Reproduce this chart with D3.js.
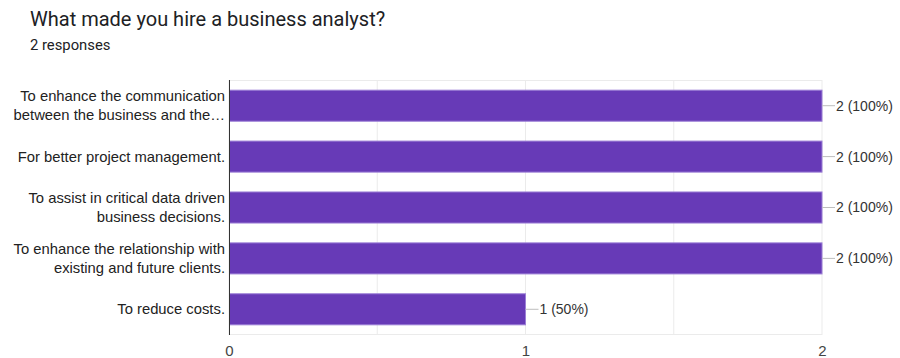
<!DOCTYPE html>
<html>
<head>
<meta charset="utf-8">
<script src="https://cdn.jsdelivr.net/npm/d3@7"></script>
<style>
  body { margin: 0; background: #fff; }
  svg { display: block; }
</style>
</head>
<body>
<div id="chart"></div>
<script>
const categories = [
  ["To enhance the communication", "between the business and the…"],
  ["For better project management."],
  ["To assist in critical data driven", "business decisions."],
  ["To enhance the relationship with", "existing and future clients."],
  ["To reduce costs."]
];
const counts = [2, 2, 2, 2, 1];
const percents = ["100%", "100%", "100%", "100%", "50%"];
const ticks = [0, 1, 2];
const gridTicks = [0, 0.5, 1, 1.5, 2];

const W = 900, H = 358;
const margin = { top: 80, right: 78, bottom: 23, left: 229 };
const width = W - margin.left - margin.right,
    height = H - margin.top - margin.bottom;

const font = "Arial, 'Liberation Sans', sans-serif";

const svg = d3.select("#chart").append("svg")
    .attr("width", W).attr("height", H);

svg.append("text")
    .attr("x", 30).attr("y", 26)
    .attr("font-family", "Roboto, sans-serif")
    .attr("font-size", 20)
    .attr("fill", "#202124")
    .text("What made you hire a business analyst?");

svg.append("text")
    .attr("x", 30).attr("y", 50)
    .attr("font-family", "Roboto, sans-serif")
    .attr("font-size", 14.8)
    .attr("fill", "#202124")
    .text("2 responses");

const g = svg.append("g").attr("transform", `translate(${margin.left},${margin.top})`);

const x = d3.scaleLinear().domain([0, 2]).range([0, width]);
const y = d3.scaleBand().domain(d3.range(categories.length)).range([0, height]).paddingInner(0.39).paddingOuter(0.2);

// grid
g.selectAll(".grid").data(gridTicks).enter().append("line")
    .attr("x1", d => x(d)).attr("x2", d => x(d))
    .attr("y1", 0).attr("y2", height)
    .attr("stroke", "#ebebeb");
g.append("line").attr("x1", 0).attr("x2", width).attr("y1", 0.5).attr("y2", 0.5).attr("stroke", "#ebebeb");
g.append("line").attr("x1", 0).attr("x2", width).attr("y1", height - 0.5).attr("y2", height - 0.5).attr("stroke", "#ebebeb");

// bars
g.selectAll(".bar").data(counts).enter().append("rect")
    .attr("x", 0.5)
    .attr("y", (d, i) => y(i))
    .attr("width", d => x(d) - 0.5)
    .attr("height", y.bandwidth())
    .attr("fill", "#673ab7")
    .attr("stroke", "#9c7fd6")
    .attr("stroke-width", 1);

// axis line
g.append("line").attr("x1", 0.5).attr("x2", 0.5).attr("y1", 0).attr("y2", height)
    .attr("stroke", "#333").attr("stroke-width", 1);

// value labels with leaders
counts.forEach((d, i) => {
  const cy = y(i) + y.bandwidth() / 2;
  g.append("line")
      .attr("x1", x(d)).attr("x2", x(d) + 13)
      .attr("y1", cy).attr("y2", cy)
      .attr("stroke", "#bdbdbd");
  g.append("text")
      .attr("x", x(d) + 14).attr("y", cy)
      .attr("dy", "0.35em")
      .attr("font-family", font)
      .attr("font-size", 14)
      .attr("fill", "#333")
      .text(`${d} (${percents[i]})`);
});

// category labels
categories.forEach((lines, i) => {
  const cy = y(i) + y.bandwidth() / 2;
  const lh = 19;
  const t = g.append("text")
      .attr("x", -4)
      .attr("text-anchor", "end")
      .attr("font-family", font)
      .attr("font-size", 14.8)
      .attr("fill", "#222");
  lines.forEach((ln, j) => {
    t.append("tspan")
        .attr("x", -4)
        .attr("y", cy + (j - (lines.length - 1) / 2) * lh)
        .attr("dy", "0.35em")
        .text(ln);
  });
});

// x axis tick labels
const xAxis = g.append("g").attr("transform", `translate(0,${height})`)
    .call(d3.axisBottom(x).tickValues(ticks).tickFormat(d3.format("d")).tickSize(0).tickPadding(10));
xAxis.select(".domain").remove();
xAxis.selectAll("text")
    .attr("font-family", font)
    .attr("font-size", 15)
    .attr("fill", "#444");
</script>
</body>
</html>
